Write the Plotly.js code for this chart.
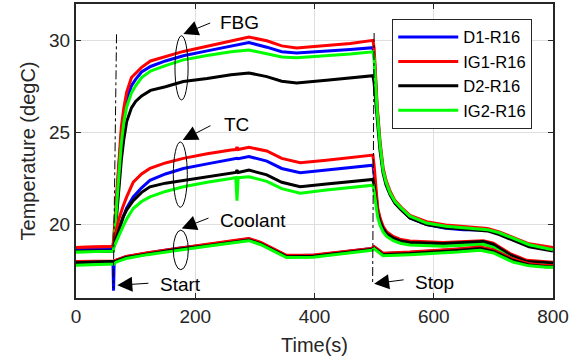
<!DOCTYPE html>
<html>
<head>
<meta charset="utf-8">
<script src="https://cdn.plot.ly/plotly-3.0.1.min.js"></script>
<style>html,body{margin:0;padding:0;background:#fff;}#chart{width:578px;height:362px;}</style>
</head>
<body>
<div id="chart"></div>
<script>
// ---- DATA ----
var sensorNames = ['D1-R16', 'IG1-R16', 'D2-R16', 'IG2-R16'];
var sensorColors = ['#0000ff', '#ff0000', '#000000', '#00ff00'];

// FBG group
var tFBG = [0, 40, 62, 64, 66, 69, 72, 76, 80, 85, 93, 100, 110, 125, 150, 180, 220, 260, 290, 320, 345, 370, 420, 460, 498, 500, 502, 505, 510, 515, 520, 527, 535, 545, 560, 588, 620, 650, 690, 710, 730, 760, 800];
var fbgD1  = [18.65, 18.68, 18.7, 19.4, 20.2, 21.8, 23.2, 24.9, 25.9, 26.8, 27.55, 27.9, 28.3, 28.6, 28.9, 29.18, 29.45, 29.7, 29.9, 29.65, 29.4, 29.33, 29.42, 29.52, 29.62, 29.2, 28.1, 26.3, 24.3, 22.95, 22.25, 21.65, 21.2, 20.85, 20.35, 20.0, 19.8, 19.72, 19.7, 19.5, 19.25, 18.85, 18.65];
var fbgIG1 = [18.75, 18.78, 18.8, 19.6, 20.6, 22.2, 23.6, 25.3, 26.3, 27.2, 28.0, 28.25, 28.55, 28.9, 29.15, 29.42, 29.7, 29.98, 30.2, 30.0, 29.72, 29.6, 29.72, 29.85, 30.02, 29.6, 28.4, 26.5, 24.5, 23.1, 22.4, 21.8, 21.3, 20.95, 20.5, 20.15, 19.98, 19.88, 19.78, 19.6, 19.35, 18.95, 18.75];
var fbgD2  = [18.55, 18.55, 18.57, 19.0, 19.5, 20.8, 22.1, 23.5, 24.6, 25.6, 26.35, 26.7, 27.0, 27.3, 27.5, 27.78, 27.95, 28.15, 28.25, 28.05, 27.8, 27.7, 27.85, 27.97, 28.1, 27.7, 26.9, 25.6, 24.0, 22.8, 22.15, 21.6, 21.15, 20.8, 20.35, 20.0, 19.82, 19.75, 19.65, 19.45, 19.18, 18.78, 18.55];
var fbgIG2 = [18.5, 18.52, 18.55, 19.2, 19.9, 21.4, 22.8, 24.4, 25.5, 26.4, 27.15, 27.55, 28.0, 28.35, 28.65, 28.96, 29.2, 29.4, 29.5, 29.3, 29.12, 29.08, 29.18, 29.28, 29.4, 29.0, 27.9, 26.2, 24.3, 22.95, 22.3, 21.7, 21.25, 20.9, 20.45, 20.08, 19.9, 19.82, 19.72, 19.55, 19.3, 18.9, 18.62];

// TC group
var tTC = [0, 40, 62, 64, 67, 72, 79, 85, 96, 110, 124, 150, 180, 220, 260, 268, 270, 272, 290, 320, 345, 376, 420, 460, 498, 500, 503, 506, 510, 515, 521, 532, 545, 560, 616, 683, 700, 728, 756, 800];
var tcD1  = [18.65, 18.68, 18.7, 19.0, 19.3, 19.8, 20.4, 20.9, 21.5, 22.0, 22.4, 22.75, 23.05, 23.3, 23.55, 23.58, 23.6, 23.58, 23.7, 23.45, 23.05, 22.82, 22.98, 23.1, 23.23, 22.7, 21.5, 20.75, 20.25, 19.82, 19.52, 19.27, 19.1, 19.0, 18.95, 19.05, 18.9, 18.35, 17.97, 17.88];
var tcIG1 = [18.75, 18.78, 18.8, 19.2, 19.6, 20.3, 21.0, 21.5, 22.3, 22.75, 23.05, 23.35, 23.6, 23.85, 24.05, 24.08, 24.2, 24.08, 24.2, 24.0, 23.6, 23.36, 23.5, 23.65, 23.78, 23.2, 21.8, 20.9, 20.35, 19.9, 19.6, 19.35, 19.18, 19.1, 19.02, 19.12, 18.98, 18.42, 18.05, 17.95];
var tcD2  = [18.55, 18.55, 18.57, 18.9, 19.2, 19.8, 20.4, 20.8, 21.3, 21.75, 22.05, 22.25, 22.4, 22.6, 22.8, 22.83, 22.95, 22.83, 22.96, 22.7, 22.3, 22.05, 22.2, 22.32, 22.45, 22.1, 21.2, 20.6, 20.15, 19.78, 19.5, 19.26, 19.1, 19.02, 18.97, 19.08, 18.92, 18.35, 17.98, 17.9];
var tcIG2 = [18.5, 18.52, 18.55, 18.8, 19.0, 19.4, 19.9, 20.3, 20.87, 21.25, 21.5, 21.8, 22.05, 22.3, 22.5, 22.55, 21.3, 22.55, 22.6, 22.35, 21.95, 21.7, 21.88, 22.0, 22.14, 21.8, 21.0, 20.4, 19.95, 19.6, 19.35, 19.12, 18.97, 18.88, 18.82, 18.92, 18.75, 18.2, 17.85, 17.75];

// Coolant group
var tCool = [0, 40, 62, 63, 64, 67, 84, 120, 168, 220, 280, 290, 310, 335, 353, 398, 450, 496, 500, 515, 560, 600, 640, 678, 700, 733, 760, 789, 800];
var coolD1  = [17.95, 17.98, 18.0, 16.4, 18.0, 18.05, 18.25, 18.45, 18.69, 18.9, 19.18, 19.22, 19.0, 18.6, 18.3, 18.32, 18.5, 18.69, 18.78, 18.42, 18.48, 18.55, 18.65, 18.75, 18.6, 18.1, 17.85, 17.75, 17.75];
var coolIG1 = [17.98, 18.0, 18.02, 18.02, 18.02, 18.06, 18.26, 18.46, 18.7, 18.92, 19.2, 19.24, 19.02, 18.62, 18.32, 18.34, 18.52, 18.7, 18.8, 18.44, 18.5, 18.57, 18.67, 18.77, 18.62, 18.12, 17.87, 17.77, 17.77];
var coolD2  = [17.92, 17.95, 17.97, 17.97, 17.97, 18.0, 18.2, 18.4, 18.64, 18.85, 19.12, 19.16, 18.95, 18.55, 18.25, 18.27, 18.45, 18.64, 18.72, 18.36, 18.42, 18.49, 18.59, 18.69, 18.54, 18.04, 17.8, 17.7, 17.7];
var coolIG2 = [17.78, 17.8, 17.82, 17.82, 17.85, 17.95, 18.15, 18.36, 18.6, 18.82, 19.08, 19.12, 18.9, 18.5, 18.2, 18.22, 18.4, 18.6, 18.68, 18.3, 18.36, 18.42, 18.5, 18.6, 18.45, 17.95, 17.75, 17.68, 17.68];

var xTicks = [0, 200, 400, 600, 800];
var yTicks = [20, 25, 30];

// ---- BUILD ----
var groups = [
  {t: tFBG, series: [fbgD1, fbgIG1, fbgD2, fbgIG2], legend: true},
  {t: tTC, series: [tcD1, tcIG1, tcD2, tcIG2], legend: false},
  {t: tCool, series: [coolD1, coolIG1, coolD2, coolIG2], legend: false}
];
var traces = [];
groups.forEach(function (g) {
  g.series.forEach(function (s, i) {
    traces.push({
      x: g.t, y: s, type: 'scatter', mode: 'lines',
      name: sensorNames[i], legendgroup: sensorNames[i], showlegend: g.legend,
      line: {color: sensorColors[i], width: 3}
    });
  });
});

var FONT = 'Liberation Sans, Arial, sans-serif';
var ann = [];
function label(x, y, txt) {
  ann.push({x: x, y: y, xref: 'x', yref: 'y', text: txt, showarrow: false, xanchor: 'left', yanchor: 'middle',
    font: {family: FONT, size: 19, color: '#000'}});
}
function arrow(x, y, ax, ay) {
  ann.push({x: x, y: y, ax: ax, ay: ay, xref: 'x', yref: 'y', axref: 'x', ayref: 'y', text: '', showarrow: true,
    arrowhead: 2, arrowsize: 3, arrowwidth: 1, arrowcolor: '#000', standoff: 0, startstandoff: 0});
}
label(238, 31.0, 'FBG');  arrow(180, 30.37, 227.6, 31.0);
label(245, 25.42, 'TC');  arrow(179, 24.6, 228, 25.42);
label(238, 20.23, 'Coolant'); arrow(177.3, 19.78, 224.7, 20.38);
label(137.5, 16.74, 'Start'); arrow(69.3, 16.69, 124, 16.81);
label(565, 16.85, 'Stop'); arrow(500, 16.78, 552, 17.0);

var shapes = [
  {type: 'line', xref: 'x', yref: 'y', x0: 68, y0: 30.35, x1: 62.5, y1: 16.55, line: {color: '#000', width: 1, dash: 'dashdot'}},
  {type: 'line', xref: 'x', yref: 'y', x0: 500, y0: 30.42, x1: 497.5, y1: 16.78, line: {color: '#000', width: 1, dash: 'dashdot'}},
  {type: 'circle', xref: 'x', yref: 'y', x0: 166, x1: 188, y0: 26.78, y1: 30.27, line: {color: '#000', width: 1}},
  {type: 'circle', xref: 'x', yref: 'y', x0: 163.2, x1: 186.7, y0: 20.94, y1: 24.49, line: {color: '#000', width: 1}},
  {type: 'circle', xref: 'x', yref: 'y', x0: 163.2, x1: 188.3, y0: 17.54, y1: 19.69, line: {color: '#000', width: 1}}
];

var layout = {
  width: 578, height: 362,
  margin: {l: 76, r: 25, t: 4, b: 64},
  paper_bgcolor: '#fff', plot_bgcolor: '#fff',
  font: {family: FONT, size: 18, color: '#262626'},
  showlegend: true,
  legend: {x: 0.663, y: 0.95, xanchor: 'left', yanchor: 'top', bgcolor: '#fff', bordercolor: '#262626', borderwidth: 1,
    font: {family: FONT, size: 16.5, color: '#000'}, itemwidth: 60, tracegroupgap: 0, traceorder: 'grouped'},
  xaxis: {range: [0, 800], tickvals: xTicks, ticktext: xTicks.map(String), ticks: 'inside', ticklen: 5, tickwidth: 1,
    tickcolor: '#262626', showline: true, linecolor: '#262626', linewidth: 2, mirror: 'ticks',
    showgrid: true, gridcolor: '#dfdfdf', gridwidth: 1, zeroline: false,
    tickfont: {family: FONT, size: 19, color: '#262626'},
    title: {text: 'Time(s)', font: {family: FONT, size: 20, color: '#262626'}, standoff: 12}},
  yaxis: {range: [16, 32], tickvals: yTicks, ticktext: yTicks.map(String), ticks: 'inside', ticklen: 5, tickwidth: 1,
    tickcolor: '#262626', showline: true, linecolor: '#262626', linewidth: 2, mirror: 'ticks',
    showgrid: true, gridcolor: '#dfdfdf', gridwidth: 1, zeroline: false,
    tickfont: {family: FONT, size: 19, color: '#262626'},
    title: {text: 'Temperature (degC)', font: {family: FONT, size: 20, color: '#262626'}, standoff: 8}},
  annotations: ann,
  shapes: shapes
};
Plotly.newPlot('chart', traces, layout, {displayModeBar: false, staticPlot: true});
</script>
</body>
</html>
